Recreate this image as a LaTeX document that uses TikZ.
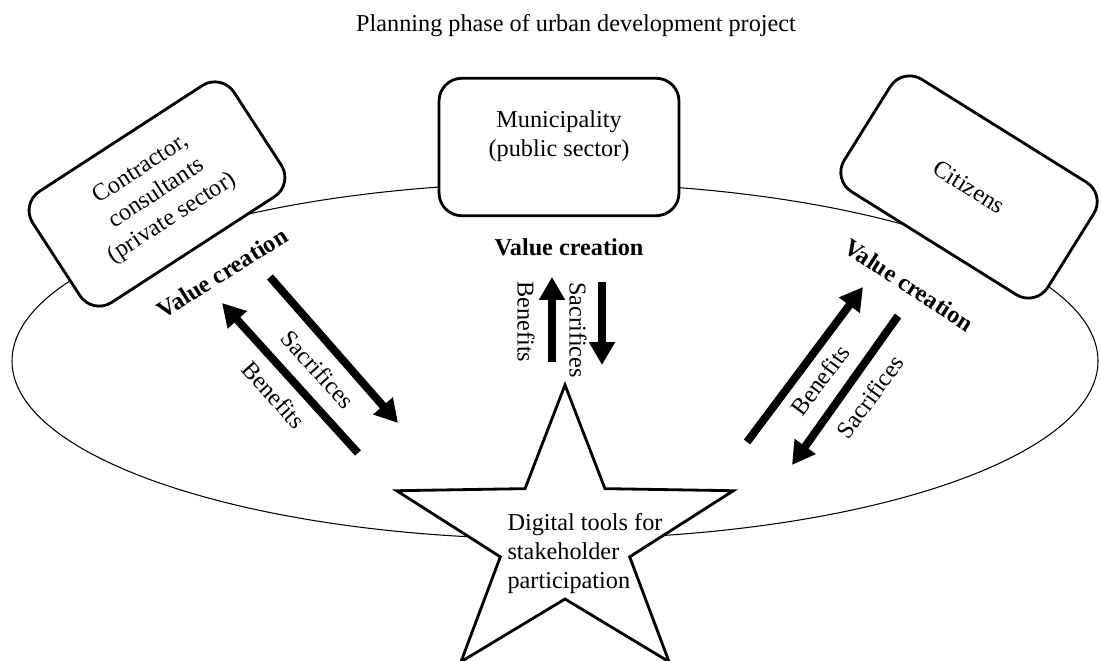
\documentclass[tikz,border=0pt]{standalone}
\usepackage{fontspec}
\setmainfont{Liberation Serif}
\usepackage{tikz}
\usetikzlibrary{arrows.meta}
\tikzstyle{party}=[draw=black, line width=1.6pt, fill=white, rounded corners=13pt, align=center, minimum width=4.8cm, minimum height=2.65cm]
\tikzstyle{flow}=[line width=4.5pt, -{Triangle[length=13pt, width=14pt]}]
\tikzstyle{gain}=[font=\fontsize{13.8}{16.5}\selectfont\bfseries]

\begin{document}
\begin{tikzpicture}[x=0.02cm, y=-0.02cm, every node/.style={font=\fontsize{13.8}{16.5}\selectfont}]
					\useasboundingbox (0,0) rectangle (1101,661);
					\node (title) at (576,26) {Planning phase of urban development project};
					% project area
					\draw[line width=0.6pt] (555,361) ellipse (543 and 178);
					% stakeholders
					\node[party, minimum height=2.75cm] (muni) at (559,147) {Municipality\\(public sector)\\[-6pt]\strut};
					\node[party, rotate=33] (priv) at (157,194) {Contractor,\\consultants\\(private sector)};
					\node[party, rotate=-32] (cit) at (969,187) {Citizens};
					% tools in the middle
					\begin{scope}[shift={(565,538)}]
						\draw[line width=1.6pt, fill=white] (-90:177 and 153) -- (-54:68 and 61) -- (-18:177 and 153) -- (18:68 and 61) -- (54:177 and 153) -- (90:68 and 61) -- (126:177 and 153) -- (162:68 and 61) -- (198:177 and 153) -- (234:68 and 61) -- cycle;
					\end{scope}
					\node[align=left] (tools) at (585,554) {Digital tools for\\stakeholder\\participation};
					% value creation
					\node[gain, rotate=32] (vl) at (222,273) {Value creation};
					\node[gain] (vm) at (569,247) {Value creation};
					\node[gain, rotate=-33] (vr) at (909,285) {Value creation};
					\coordinate (lb0) at (358,453); \coordinate (lb1) at (222,303);
					\coordinate (ls0) at (270,277); \coordinate (ls1) at (398,423);
					\coordinate (mb0) at (552,362); \coordinate (mb1) at (552,277);
					\coordinate (ms0) at (602,282); \coordinate (ms1) at (602,365);
					\coordinate (rb0) at (747,442); \coordinate (rb1) at (863,287);
					\coordinate (rs0) at (898,316); \coordinate (rs1) at (792,465);
					\draw[flow] (lb0) -- (lb1);
					\draw[flow] (ls0) -- (ls1);
					\draw[flow] (mb0) -- (mb1);
					\draw[flow] (ms0) -- (ms1);
					\draw[flow] (rb0) -- (rb1);
					\draw[flow] (rs0) -- (rs1);
					\node[rotate=-48] (lbt) at (274,395) {Benefits};
					\node[rotate=-48] (lst) at (318,369) {Sacrifices};
					\node[rotate=-90] (mbt) at (526,322) {Benefits};
					\node[rotate=-90] (mst) at (578,330) {Sacrifices};
					\node[rotate=53] (rbt) at (820,380) {Benefits};
					\node[rotate=54] (rst) at (870,397) {Sacrifices};
				\end{tikzpicture}
\end{document}
